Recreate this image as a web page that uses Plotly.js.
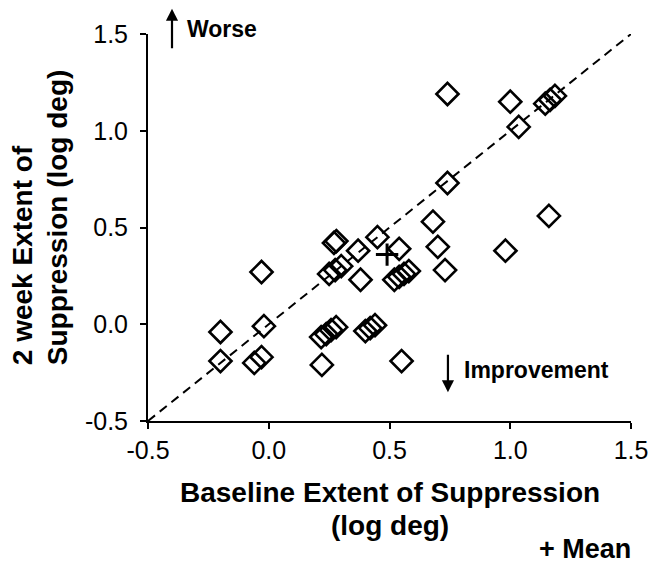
<!DOCTYPE html>
<html>
<head>
<meta charset="utf-8">
<script src="https://cdn.plot.ly/plotly-3.0.1.min.js"></script>
<style>html,body{margin:0;padding:0;background:#fff;}#chart{width:650px;height:565px;}</style>
</head>
<body>
<div id="chart"></div>
<script>
// Baseline extent of suppression (log deg)
var baseline = [-0.20, -0.20, -0.03, -0.02, -0.06, -0.03, 0.22,
  0.217, 0.238, 0.258, 0.279,
  0.40, 0.42, 0.44,
  0.55,
  0.27, 0.28,
  0.25, 0.275, 0.30,
  0.37, 0.38, 0.45, 0.54,
  0.52, 0.54, 0.56, 0.58,
  0.68, 0.70, 0.73, 0.74, 0.74,
  1.00, 1.035, 1.145, 1.165, 1.185, 1.16, 0.98];
// 2 week extent of suppression (log deg)
var twoWeek = [-0.04, -0.19, 0.27, -0.01, -0.20, -0.17, -0.21,
  -0.066, -0.051, -0.030, -0.015,
  -0.035, -0.020, -0.005,
  -0.19,
  0.42, 0.43,
  0.26, 0.28, 0.30,
  0.38, 0.23, 0.45, 0.39,
  0.23, 0.245, 0.26, 0.275,
  0.53, 0.40, 0.28, 0.73, 1.19,
  1.15, 1.02, 1.14, 1.16, 1.18, 0.56, 0.38];
var meanX = [0.49];
var meanY = [0.36];
var identityLine = [-0.5, 1.5];
var tickVals = [-0.5, 0.0, 0.5, 1.0, 1.5];
var tickText = ['-0.5', '0.0', '0.5', '1.0', '1.5'];

var FONT = 'Liberation Sans, Arial, sans-serif';

var traces = [
  {x: identityLine, y: identityLine, mode: 'lines', type: 'scatter',
   line: {color: '#000', width: 2, dash: '9px,6px'}, hoverinfo: 'skip', showlegend: false},
  {x: baseline, y: twoWeek, mode: 'markers', type: 'scatter', showlegend: false,
   marker: {symbol: 'diamond-open', size: 17, color: '#000', line: {width: 2.6, color: '#000'}}},
  {x: meanX, y: meanY, mode: 'markers', type: 'scatter', showlegend: false,
   marker: {symbol: 'cross-thin-open', size: 16, color: '#000', line: {width: 3, color: '#000'}}}
];

function axis(extra) {
  return Object.assign({
    range: [-0.5, 1.5], tickvals: tickVals, ticktext: tickText,
    showgrid: false, zeroline: false, showline: true, linecolor: '#000', linewidth: 2,
    ticks: 'outside', ticklen: 6, tickwidth: 2, tickcolor: '#000',
    tickfont: {family: FONT, size: 25, color: '#000'}, fixedrange: true
  }, extra);
}

var bold = function (s) { return {family: FONT, size: s, color: '#000', weight: 'bold'}; };

var layout = {
  width: 650, height: 565,
  margin: {l: 148, r: 19, t: 34, b: 144},
  paper_bgcolor: '#fff', plot_bgcolor: '#fff',
  showlegend: false,
  xaxis: axis({ticklabelstandoff: 0}),
  yaxis: axis({ticklabelstandoff: 7}),
  annotations: [
    {xref: 'paper', yref: 'paper', x: 0.5, y: -0.1845, xanchor: 'center', yanchor: 'middle',
     text: 'Baseline Extent of Suppression', showarrow: false, font: bold(28)},
    {xref: 'paper', yref: 'paper', x: 0.5, y: -0.2699, xanchor: 'center', yanchor: 'middle',
     text: '(log deg)', showarrow: false, font: bold(28)},
    {xref: 'paper', yref: 'paper', x: -0.2609, y: 0.139, xanchor: 'center', yanchor: 'bottom',
     text: '2 week Extent of', showarrow: false, textangle: -90, font: bold(28)},
    {xref: 'paper', yref: 'paper', x: -0.1884, y: 0.139, xanchor: 'center', yanchor: 'bottom',
     text: 'Suppression (log deg)', showarrow: false, textangle: -90, font: bold(28)},
    {xref: 'paper', yref: 'paper', x: 1.004, y: -0.330, xanchor: 'right', yanchor: 'middle',
     text: '+ Mean', showarrow: false, font: bold(27)},
    {xref: 'paper', yref: 'paper', x: 0.0497, y: 1.0655, text: '', showarrow: true,
     ax: 0, ay: 41, arrowhead: 2, arrowsize: 1.1, arrowwidth: 2.2, arrowcolor: '#000'},
    {xref: 'paper', yref: 'paper', x: 0.0766, y: 1.0137, xanchor: 'left', yanchor: 'middle',
     text: 'Worse', showarrow: false, font: bold(23)},
    {xref: 'paper', yref: 'paper', x: 0.621, y: 0.074, text: '', showarrow: true,
     ax: 0, ay: -39, arrowhead: 2, arrowsize: 1.1, arrowwidth: 2.2, arrowcolor: '#000'},
    {xref: 'paper', yref: 'paper', x: 0.6501, y: 0.1311, xanchor: 'left', yanchor: 'middle',
     text: 'Improvement', showarrow: false, font: bold(23)}
  ]
};

Plotly.newPlot('chart', traces, layout, {staticPlot: true, displayModeBar: false});
</script>
</body>
</html>
